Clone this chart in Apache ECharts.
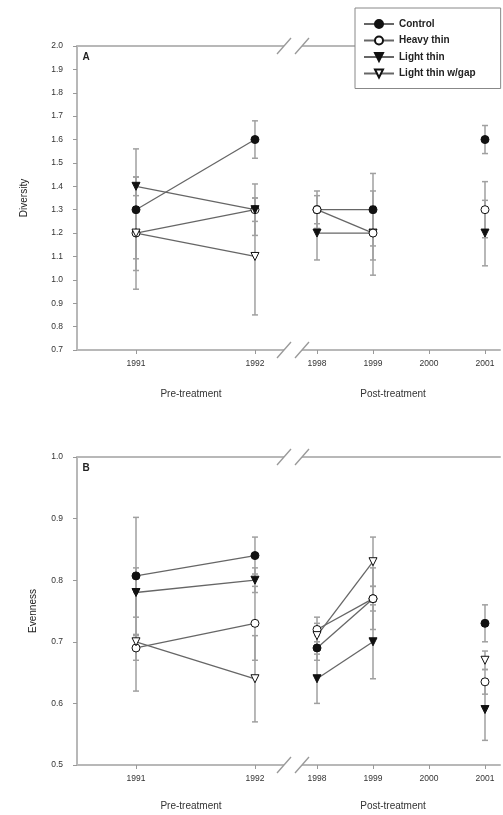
<!DOCTYPE html>
<html>
<head>
<meta charset="utf-8">
<script src="https://cdn.jsdelivr.net/npm/echarts@6/dist/echarts.min.js"></script>
<style>
  html, body { margin: 0; padding: 0; background: #fff; }
  #chart { width: 503px; height: 815px; }
</style>
</head>
<body>
<div id="chart"></div>
<script>
// ---------------- DATA ----------------
const treatments = ['Control', 'Heavy thin', 'Light thin', 'Light thin w/gap'];
const preYears = [1991, 1992];
const postYears = [1998, 1999, 2000, 2001];

// Diversity (panel A) - rows follow `treatments`
const diversityPre    = [[1.30, 1.60], [1.20, 1.30], [1.40, 1.30], [1.20, 1.10]];
const diversityPreErr = [[0.26, 0.08], [0.24, 0.11], [0.04, 0.05], [0.11, 0.25]];
const diversityPost    = [[1.30, 1.30, null, 1.60], [1.30, 1.20, null, 1.30], [1.20, 1.20, null, 1.20], [null, null, null, null]];
const diversityPostErr = [[0.08, 0.155, null, 0.06], [0.06, 0.18, null, 0.12], [0.115, 0.115, null, 0.14], [null, null, null, null]];

// Evenness (panel B)
const evennessPre    = [[0.807, 0.840], [0.690, 0.730], [0.780, 0.800], [0.700, 0.640]];
const evennessPreErr = [[0.095, 0.030], [0.020, 0.060], [0.040, 0.020], [0.080, 0.070]];
const evennessPost    = [[0.690, 0.770, null, 0.730], [0.720, 0.770, null, 0.635], [0.640, 0.700, null, 0.590], [0.710, 0.830, null, 0.670]];
const evennessPostErr = [[0.020, 0.020, null, 0.030], [0.020, 0.050, null, 0.020], [0.040, 0.060, null, 0.050], [0.020, 0.040, null, 0.015]];

// ---------------- STYLE ----------------
const markerStyles = [
  { symbol: 'circle', rotate: 0, fill: '#111' },
  { symbol: 'circle', rotate: 0, fill: '#fff' },
  { symbol: 'triangle', rotate: 180, fill: '#111' },
  { symbol: 'triangle', rotate: 180, fill: '#fff' }
];
// drawing order (higher on top) for pre and post panels
const preOrder = [0, 1, 2, 3];
const postOrder = [0, 2, 1, 3];
const AXIS_COLOR = '#b8b8b8';
const TXT = '#333';
const FONT = 'Arial, "Liberation Sans", sans-serif';

function lineSeries(i, xIdx, yIdx, years, vals, order) {
  const st = markerStyles[i];
  return {
    type: 'line', name: treatments[i], xAxisIndex: xIdx, yAxisIndex: yIdx,
    data: years.map((y, k) => [y, vals[k] == null ? '-' : vals[k]]),
    symbol: st.symbol, symbolRotate: st.rotate, symbolSize: 8,
    showSymbol: true,
    itemStyle: { color: st.fill, borderColor: '#111', borderWidth: 1 },
    lineStyle: { color: '#666', width: 1.3 },
    connectNulls: false, z: 3, zlevel: 0, z2: order[i],
    animation: false
  };
}

function errSeries(xIdx, yIdx, years, means, errs) {
  const data = [];
  means.forEach((row, i) => row.forEach((m, k) => {
    if (m != null && errs[i][k] != null) data.push([years[k], m, errs[i][k]]);
  }));
  return {
    type: 'custom', xAxisIndex: xIdx, yAxisIndex: yIdx, data, z: 1, silent: true,
    animation: false,
    encode: { x: 0, y: 1 },
    renderItem: (params, api) => {
      const x = api.value(0), m = api.value(1), e = api.value(2);
      const p1 = api.coord([x, m + e]), p2 = api.coord([x, m - e]);
      const w = 3;
      const style = { stroke: '#a0a0a0', lineWidth: 1.5 };
      return {
        type: 'group', children: [
          { type: 'line', shape: { x1: p1[0], y1: p1[1], x2: p2[0], y2: p2[1] }, style },
          { type: 'line', shape: { x1: p1[0] - w, y1: p1[1], x2: p1[0] + w, y2: p1[1] }, style },
          { type: 'line', shape: { x1: p2[0] - w, y1: p2[1], x2: p2[0] + w, y2: p2[1] }, style }
        ]
      };
    }
  };
}

// ---------------- LAYOUT ----------------
const PRE_L = 77, PRE_R = 284, POST_L = 302, POST_R = 500;
const A_TOP = 46, A_H = 304, B_TOP = 457, B_H = 308;
const preMin = 1990.504, preMax = 1992.244;
const postMin = 1997.732, postMax = 2001.268;

const grids = [
  { left: PRE_L, width: PRE_R - PRE_L, top: A_TOP, height: A_H },
  { left: POST_L, width: POST_R - POST_L, top: A_TOP, height: A_H },
  { left: PRE_L, width: PRE_R - PRE_L, top: B_TOP, height: B_H },
  { left: POST_L, width: POST_R - POST_L, top: B_TOP, height: B_H }
];

function bottomX(gridIndex, min, max, years) {
  return {
    type: 'value', gridIndex, min, max, position: 'bottom',
    axisLine: { show: true, onZero: false, lineStyle: { color: AXIS_COLOR, width: 2 } },
    axisTick: { show: true, inside: false, length: 4, customValues: years, lineStyle: { color: '#999' } },
    axisLabel: { show: true, customValues: years, margin: 9, fontSize: 8.5, color: TXT, fontFamily: FONT,
      formatter: v => String(Math.round(v)) },
    splitLine: { show: false }
  };
}
function topX(gridIndex, min, max) {
  return {
    type: 'value', gridIndex, min, max, position: 'top',
    axisLine: { show: true, onZero: false, lineStyle: { color: AXIS_COLOR, width: 2 } },
    axisTick: { show: false }, axisLabel: { show: false }, splitLine: { show: false }
  };
}
function leftY(gridIndex, min, max, name, nameGap) {
  return {
    type: 'value', gridIndex, min, max, interval: 0.1,
    name, nameLocation: 'middle', nameGap, nameRotate: 90,
    nameTextStyle: { fontSize: 10, color: '#222', fontFamily: FONT },
    axisLine: { show: true, onZero: false, lineStyle: { color: AXIS_COLOR, width: 2 } },
    axisTick: { show: true, inside: false, length: 4, lineStyle: { color: '#999' } },
    axisLabel: { margin: 14, fontSize: 8.5, color: TXT, fontFamily: FONT, formatter: v => v.toFixed(1) },
    splitLine: { show: false }
  };
}
function hiddenY(gridIndex, min, max) {
  return { type: 'value', gridIndex, min, max, show: false, splitLine: { show: false } };
}

function breakMarks(y) {
  const s = { stroke: '#999', lineWidth: 1.4 };
  return [
    { type: 'rect', shape: { x: PRE_R, y: y - 2, width: POST_L - PRE_R, height: 4 }, style: { fill: '#fff' }, z: 50 },
    { type: 'line', shape: { x1: PRE_R - 7, y1: y + 8, x2: PRE_R + 7, y2: y - 8 }, style: s, z: 51 },
    { type: 'line', shape: { x1: POST_L - 7, y1: y + 8, x2: POST_L + 7, y2: y - 8 }, style: s, z: 51 }
  ];
}
function label(text, x, y, opts) {
  return { type: 'text', x, y, z: 60,
    style: Object.assign({ text, fill: '#333', font: '10px ' + FONT, textAlign: 'center', textVerticalAlign: 'middle' }, opts || {}) };
}

const series = [];
treatments.forEach((t, i) => {
  series.push(lineSeries(i, 0, 0, preYears, diversityPre[i], preOrder));
  series.push(lineSeries(i, 1, 1, postYears, diversityPost[i], postOrder));
  series.push(lineSeries(i, 2, 2, preYears, evennessPre[i], preOrder));
  series.push(lineSeries(i, 3, 3, postYears, evennessPost[i], postOrder));
});
series.push(errSeries(0, 0, preYears, diversityPre, diversityPreErr));
series.push(errSeries(1, 1, postYears, diversityPost, diversityPostErr));
series.push(errSeries(2, 2, preYears, evennessPre, evennessPreErr));
series.push(errSeries(3, 3, postYears, evennessPost, evennessPostErr));
// series order in array determines paint order among same z; sort by order value
series.sort((a, b) => (a.z - b.z) || ((a.z2 || 0) - (b.z2 || 0)));

const option = {
  animation: false,
  backgroundColor: '#fff',
  grid: grids,
  xAxis: [
    bottomX(0, preMin, preMax, preYears),
    bottomX(1, postMin, postMax, postYears),
    bottomX(2, preMin, preMax, preYears),
    bottomX(3, postMin, postMax, postYears),
    topX(0, preMin, preMax), topX(1, postMin, postMax),
    topX(2, preMin, preMax), topX(3, postMin, postMax)
  ],
  yAxis: [
    leftY(0, 0.7, 2.0, 'Diversity', 48),
    hiddenY(1, 0.7, 2.0),
    leftY(2, 0.5, 1.0, 'Evenness', 39),
    hiddenY(3, 0.5, 1.0)
  ],
  legend: {
    data: treatments, orient: 'vertical', left: 355, top: 8,
    padding: [11, 25, 10, 8], itemGap: 6.5, itemWidth: 30, itemHeight: 10,
    backgroundColor: '#fff', borderColor: '#888', borderWidth: 1, z: 40,
    textStyle: { fontSize: 10, fontWeight: 'bold', color: '#222', fontFamily: FONT },
    selectedMode: false
  },
  graphic: [].concat(
    breakMarks(A_TOP), breakMarks(A_TOP + A_H), breakMarks(B_TOP), breakMarks(B_TOP + B_H),
    [
      label('A', 86, 57, { font: 'bold 10px ' + FONT, fill: '#222' }),
      label('B', 86, 468, { font: 'bold 10px ' + FONT, fill: '#222' }),
      label('Pre-treatment', 191, 394),
      label('Post-treatment', 393, 394),
      label('Pre-treatment', 191, 806),
      label('Post-treatment', 393, 806)
    ]
  ),
  series
};

const chart = echarts.init(document.getElementById('chart'), null, { renderer: 'canvas' });
chart.setOption(option);
</script>
</body>
</html>
